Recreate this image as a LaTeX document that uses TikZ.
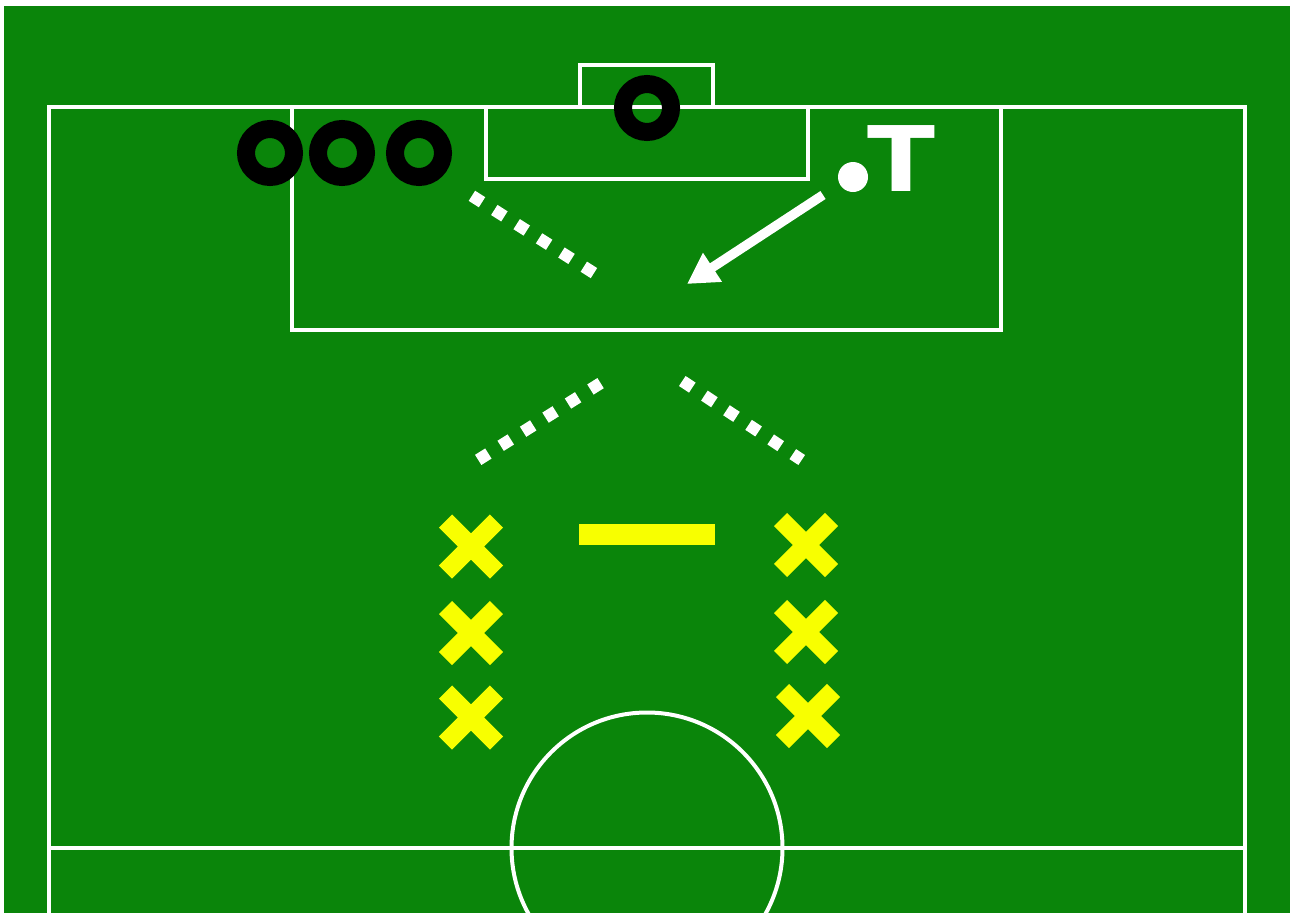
\documentclass[tikz,border=0pt]{standalone}
\usepackage{fontspec}
\newfontfamily\markfont{DejaVu Sans}
\usetikzlibrary{arrows.meta, calc}
\definecolor{pitch}{RGB}{10,133,10}
\definecolor{bib}{RGB}{248,255,0}

\begin{document}
\begin{tikzpicture}[
  x=0.02cm, y=-0.02cm,
  >=Stealth,
  pitchline/.style={draw=white, line width=0.08cm},
  cone/.style={draw=black, line width=0.36cm},
  run/.style={draw=white, line width=0.24cm, dash pattern=on 0.24cm off 0.29cm},
  cross/.style={draw=bib, line width=0.37cm},
  pass/.style={draw=white, line width=0.19cm,
               -{Triangle[length=0.61cm, width=0.65cm]}},
]

\useasboundingbox (0,0) rectangle (1294,913);
\fill[white] (0,0) rectangle (1294,913);
\fill[pitch] (4,6) rectangle (1290,913);

\begin{scope}
\clip (4,6) rectangle (1290,913);

% pitch markings
\draw[pitchline] (49,913) -- (49,107) -- (1245,107) -- (1245,913);
\draw[pitchline] (49,848) -- (1245,848);
\draw[pitchline] (292,107) rectangle (1001,330);
\draw[pitchline] (486,107) rectangle (808,179);
\draw[pitchline] (580,107) -- (580,65) -- (713,65) -- (713,107);
\draw[pitchline] (647,848) circle[radius=135.5];

% keeper and cones
\draw[cone] (647,108) circle[radius=24];
\foreach \cx in {270,342,419}
  \draw[cone] (\cx,153) circle[radius=24];

% ball and trainer
\fill[white] (853,177) circle[radius=15];
\node[inner sep=0, anchor=base, text=white, xscale=1.1,
      font=\markfont\bfseries\fontsize{51.5}{52}\selectfont] (trainer)
  at (901.5,191.7) {T};

% pass
\coordinate (passA) at (823,195);
\coordinate (passB) at (687,284);
\draw[pass] (passA) -- (passB);

% runs
\coordinate (runA1) at (471.9,195.8);
\coordinate (runA2) at (594.1,273.2);
\coordinate (runB1) at (478.2,459.9);
\coordinate (runB2) at (601.1,382.8);
\coordinate (runC1) at (682.3,381);
\coordinate (runC2) at (801.7,460);
\draw[run] (runA1) -- (runA2);
\draw[run] (runB1) -- (runB2);
\draw[run] (runC1) -- (runC2);

% players
\fill[bib] (579,524) rectangle (715,545);
\foreach \cx/\cy in {471/546.5, 471/633, 471/717.5, 806/545, 806/632, 808/716}
  \draw[cross, shift={(\cx,\cy)}] (-25.5,-25.5) -- (25.5,25.5)
                                  (-25.5,25.5) -- (25.5,-25.5);
\end{scope}

\end{tikzpicture}
\end{document}
